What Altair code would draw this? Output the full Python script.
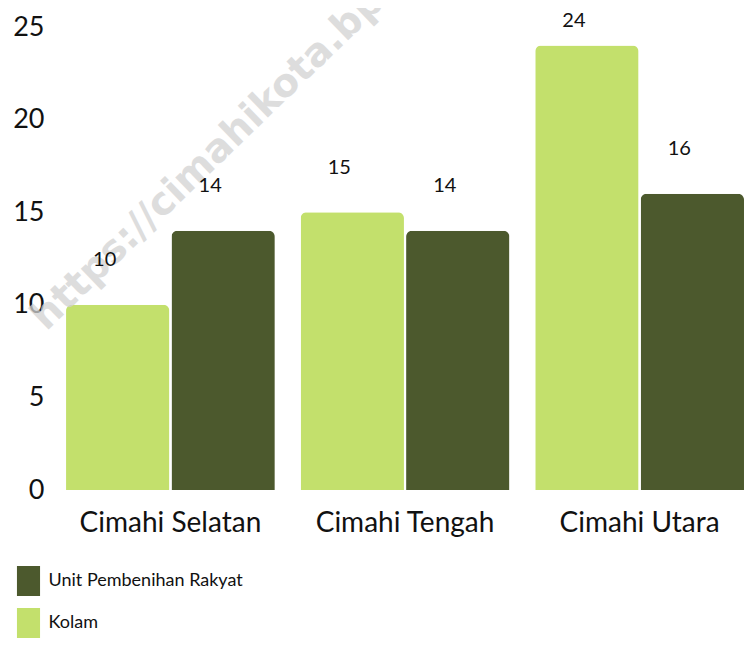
import altair as alt
import pandas as pd

categories = ["Cimahi Selatan", "Cimahi Tengah", "Cimahi Utara"]
series = ["Kolam", "Unit Pembenihan Rakyat"]
kolam = [10, 15, 24]
upr = [14, 14, 16]

rows = []
for i, c in enumerate(categories):
    rows.append({"kecamatan": c, "jenis": series[0], "value": kolam[i]})
    rows.append({"kecamatan": c, "jenis": series[1], "value": upr[i]})
df = pd.DataFrame(rows)

FONT = "Lato"
LIGHT = "#c3e06c"
DARK = "#4c592d"

x_enc = alt.X("kecamatan:N", sort=categories, title=None,
              scale=alt.Scale(paddingInner=0.11, paddingOuter=0.0235, align=1),
              axis=alt.Axis(labelAngle=0, domain=False, ticks=False, labelFontSize=28,
                            labelPadding=19, labelColor="#111", labelFont=FONT, labelLimit=0))
xoff = alt.XOffset("jenis:N", sort=series, scale=alt.Scale(paddingInner=0.02))
y_enc = alt.Y("value:Q", title=None, scale=alt.Scale(domain=[0, 25], nice=False),
              axis=alt.Axis(values=[0, 5, 10, 15, 20, 25], grid=False, domain=False, ticks=False,
                            labelFontSize=27, labelPadding=11, labelColor="#111", labelFont=FONT))

color = alt.Color("jenis:N",
                  scale=alt.Scale(domain=["Unit Pembenihan Rakyat", "Kolam"], range=[DARK, LIGHT]),
                  legend=alt.Legend(title=None, orient="none", legendX=-41.5, legendY=539,
                                    symbolType="M-0.77,-1L0.77,-1L0.77,1L-0.77,1Z",
                                    symbolSize=900, symbolStrokeWidth=0, symbolOpacity=1,
                                    labelFontSize=18, labelFont=FONT, labelColor="#111",
                                    labelLimit=0, labelOffset=5, rowPadding=12, padding=0))

bars = alt.Chart(df).mark_bar(cornerRadiusTopLeft=6, cornerRadiusTopRight=6).encode(
    x=x_enc, xOffset=xoff, y=y_enc, color=color
)

labels = alt.Chart(df).transform_calculate(
    ly="min(datum.value + 2.4, 25.3)"
).mark_text(fontSize=20, font=FONT, color="#111", dx=-13, baseline="middle").encode(
    x=alt.X("kecamatan:N", sort=categories),
    xOffset=alt.XOffset("jenis:N", sort=series),
    y=alt.Y("ly:Q"),
    text=alt.Text("value:Q"),
)

watermark = alt.Chart(pd.DataFrame({"t": ["https://cimahikota.bps.go.id"]})).mark_text(
    fontSize=39, font="DejaVu Sans", fontWeight="bold", angle=316, align="left",
    baseline="middle", color="#d2d2d2", opacity=0.75
).encode(x=alt.value(-17), y=alt.value(296), text="t:N")

chart = alt.layer(bars, watermark, labels).properties(
    width=689, height=463,
    autosize=alt.AutoSizeParams(type="none"),
    padding={"left": 47, "top": 19, "right": 0, "bottom": 148},
).configure_view(stroke=None)

chart.save("out.html", embed_options={"renderer": "svg", "actions": False})
